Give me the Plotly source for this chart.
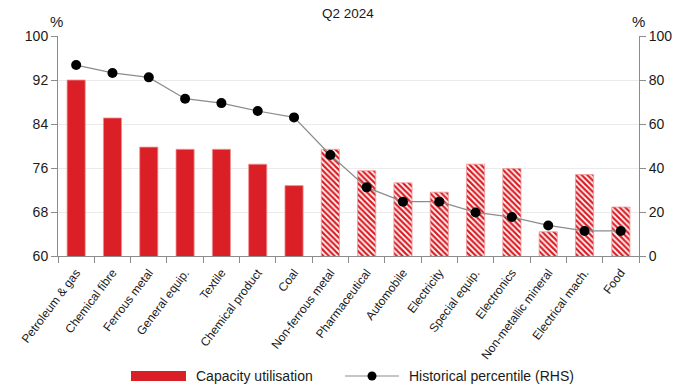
import plotly.graph_objects as go

categories = ["Petroleum & gas", "Chemical fibre", "Ferrous metal", "General equip.", "Textile",
              "Chemical product", "Coal", "Non-ferrous metal", "Pharmaceutical", "Automobile",
              "Electricity", "Special equip.", "Electronics", "Non-metallic mineral",
              "Electrical mach.", "Food"]
capacity_utilisation = [92.0, 85.1, 79.8, 79.4, 79.4, 76.7, 72.8, 79.4, 75.5, 73.3,
                        71.6, 76.7, 75.9, 64.4, 74.8, 68.9]
historical_percentile = [86.8, 83.2, 81.2, 71.5, 69.5, 65.9, 63.0, 45.9, 31.2, 24.7,
                         24.7, 19.8, 17.7, 13.9, 11.4, 11.4]
hatched = [False] * 7 + [True] * 9
left_ticks = [60, 68, 76, 84, 92, 100]
right_ticks = [0, 20, 40, 60, 80, 100]

RED = "#da1f26"
GREY = "#8c8c8c"
FONT = "Liberation Sans, Arial, sans-serif"

W, H = 696, 390
L, R, T, B = 58, W - 639, 36, H - 256
pw, ph = W - L - R, H - T - B


def px(x):  # window pixel -> paper fraction
    return (x - L) / pw


def py(y):
    return (H - B - y) / ph


fig = go.Figure()
fig.add_trace(go.Bar(
    x=categories, y=capacity_utilisation, width=0.5, name="Capacity utilisation",
    marker=dict(color=RED, line=dict(color="rgba(240,150,150,0.8)", width=1),
                pattern=dict(shape=["\\" if h else "" for h in hatched],
                             fgcolor=RED, bgcolor="white", size=4, solidity=0.55,
                             fillmode="replace")),
    yaxis="y", showlegend=False,
))
fig.add_trace(go.Scatter(
    x=categories, y=historical_percentile, mode="lines+markers", name="Historical percentile (RHS)",
    line=dict(color=GREY, width=1.2), marker=dict(color="black", size=10),
    yaxis="y2", showlegend=False,
))

fig.update_layout(
    width=W, height=H,
    margin=dict(l=L, r=R, t=T, b=B, autoexpand=False),
    paper_bgcolor="white", plot_bgcolor="white",
    font=dict(family=FONT, size=13, color="#1a1a1a"),
    xaxis=dict(tickangle=-53, tickfont=dict(size=12), ticks="outside", ticklen=6,
               tickson="boundaries", tickcolor=GREY, showline=True, linecolor=GREY,
               showgrid=False, range=[-0.5, 15.5], automargin=False, ticklabelstandoff=4),
    yaxis=dict(range=[60, 100], tickvals=left_ticks, ticks="outside", ticklen=6,
               tickcolor=GREY, showline=True, linecolor=GREY, linewidth=1,
               showgrid=True, gridcolor="#ebebeb", zeroline=False, tickfont=dict(size=14),
               automargin=False),
    yaxis2=dict(range=[0, 100], tickvals=right_ticks, overlaying="y", side="right",
                ticks="outside", ticklen=6, tickcolor=GREY, showline=True,
                linecolor=GREY, showgrid=False, zeroline=False, tickfont=dict(size=14),
                automargin=False),
    bargap=0.5,
)

annotations = [
    dict(text="Q2 2024", x=348, y=14, xanchor="center", size=13.5),
    dict(text="%", x=56, y=22, xanchor="center", size=15),
    dict(text="%", x=638, y=22, xanchor="center", size=15),
    dict(text="Capacity utilisation", x=194, y=376, xanchor="left", size=14),
    dict(text="Historical percentile (RHS)", x=407, y=376, xanchor="left", size=14),
]
fig.update_layout(annotations=[
    dict(text=a["text"], x=px(a["x"]), y=py(a["y"]), xref="paper", yref="paper",
         xanchor=a["xanchor"], yanchor="middle", showarrow=False, font=dict(size=a["size"]))
    for a in annotations
])

fig.add_shape(type="rect", xref="paper", yref="paper", x0=px(131), x1=px(186), y0=py(381), y1=py(371),
              fillcolor=RED, line=dict(width=0))
fig.add_shape(type="line", xref="paper", yref="paper", x0=px(345), x1=px(399), y0=py(376), y1=py(376),
              line=dict(color=GREY, width=1.2))
fig.add_shape(type="circle", xref="paper", yref="paper", x0=px(367.5), x1=px(376.5), y0=py(380.5), y1=py(371.5),
              fillcolor="black", line=dict(width=0))

fig.write_html("out.html", config={"displayModeBar": False},
               post_script="document.body.style.margin='0px';")
